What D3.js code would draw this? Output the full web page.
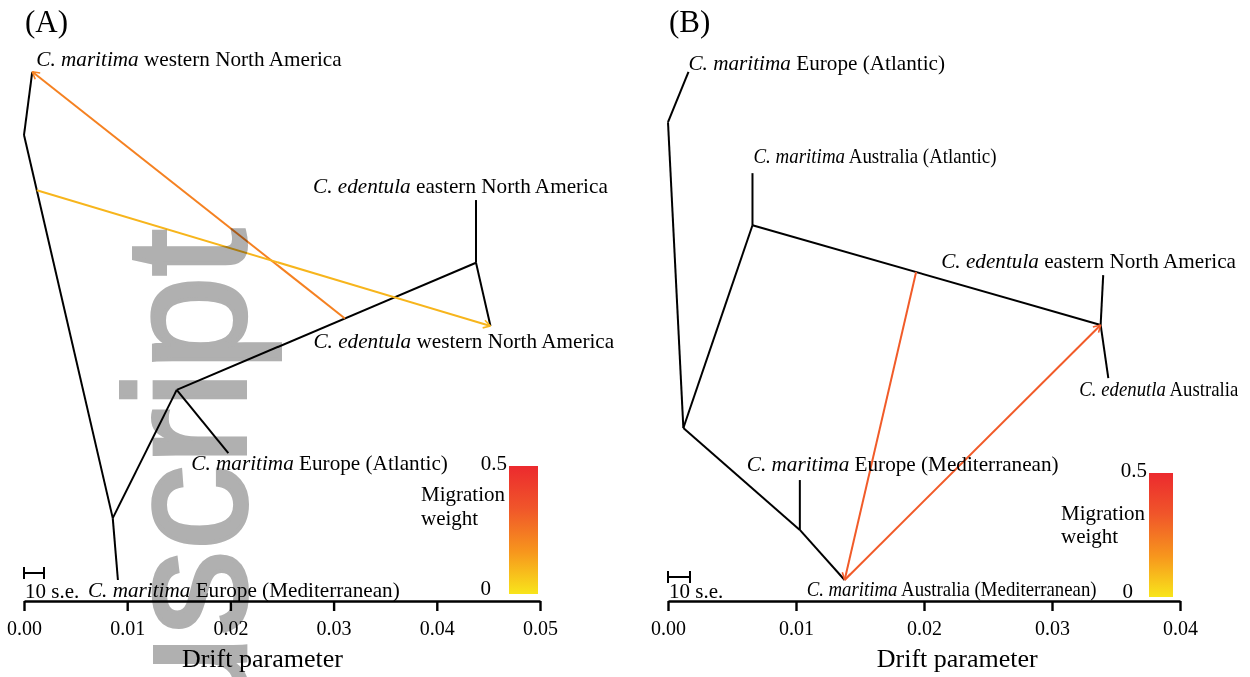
<!DOCTYPE html>
<html>
<head>
<meta charset="utf-8">
<script src="https://cdn.jsdelivr.net/npm/d3@7"></script>
<style>
  body { margin: 0; background: #fff; }
  svg { display: block; }
</style>
</head>
<body>
<svg id="chart" width="1250" height="677"></svg>
<script>
// ---- data: drift (x) and layout height (y, 0..1) of every node ----
const nodesA = [
  {id: 'root', drift: 0.0000, y: 0.832},
  {id: 'mWNA', drift: 0.0008, y: 0.945},
  {id: 'n1',   drift: 0.0086, y: 0.148},
  {id: 'mMED', drift: 0.0091, y: 0.0375},
  {id: 'n2',   drift: 0.0148, y: 0.377},
  {id: 'mATL', drift: 0.0198, y: 0.264},
  {id: 'n3',   drift: 0.0438, y: 0.604},
  {id: 'eENA', drift: 0.0438, y: 0.716},
  {id: 'eWNA', drift: 0.0452, y: 0.491}
];
const edgesA = [
  ['root', 'mWNA'], ['root', 'n1'], ['n1', 'mMED'], ['n1', 'n2'],
  ['n2', 'mATL'], ['n2', 'n3'], ['n3', 'eENA'], ['n3', 'eWNA']
];
// migration: source branch, position along it, target node, weight
const migA = [
  {from: ['n2', 'n3'], at: 0.562, to: 'mWNA', w: 0.22},
  {from: ['root', 'n1'], at: 0.144, to: 'eWNA', w: 0.10}
];
const labelsA = [
  {id: 'mWNA', it: 'C. maritima', rest: ' western North America', dx: 4, dy: -6},
  {id: 'eENA', it: 'C. edentula', rest: ' eastern North America', dx: -163, dy: -7},
  {id: 'eWNA', it: 'C. edentula', rest: ' western North America', dx: -177, dy: 22},
  {id: 'mATL', it: 'C. maritima', rest: ' Europe (Atlantic)', dx: -37, dy: 17},
  {id: 'mMED', it: 'C. maritima', rest: ' Europe (Mediterranean)', dx: -30, dy: 17}
];
const ticksA = [0, 0.01, 0.02, 0.03, 0.04, 0.05];

const nodesB = [
  {id: 'root', drift: 0.0000, y: 0.855},
  {id: 'mEA',  drift: 0.0016, y: 0.945},
  {id: 'n1',   drift: 0.0012, y: 0.309},
  {id: 'n2',   drift: 0.0066, y: 0.671},
  {id: 'mAA',  drift: 0.0066, y: 0.764},
  {id: 'n3',   drift: 0.0338, y: 0.493},
  {id: 'eENA', drift: 0.0340, y: 0.582},
  {id: 'eAUS', drift: 0.0344, y: 0.398},
  {id: 'n4',   drift: 0.0103, y: 0.127},
  {id: 'mEM',  drift: 0.0103, y: 0.216},
  {id: 'mAM',  drift: 0.0138, y: 0.0375}
];
const edgesB = [
  ['root', 'mEA'], ['root', 'n1'], ['n1', 'n2'], ['n2', 'mAA'], ['n2', 'n3'],
  ['n3', 'eENA'], ['n3', 'eAUS'], ['n1', 'n4'], ['n4', 'mEM'], ['n4', 'mAM']
];
const migB = [
  {from: ['n2', 'n3'], at: 0.47, to: 'mAM', w: 0.32},
  {from: ['n4', 'mAM'], at: 1.0, to: 'n3', w: 0.32}
];
const labelsB = [
  {id: 'mEA',  it: 'C. maritima', rest: ' Europe (Atlantic)', dx: 0, dy: -2},
  {id: 'mAA',  it: 'C. maritima', rest: ' Australia (Atlantic)', dx: 1, dy: -10, len: 243},
  {id: 'eENA', it: 'C. edentula', rest: ' eastern North America', dx: -162, dy: -7},
  {id: 'eAUS', it: 'C. edenutla', rest: ' Australia', dx: -29, dy: 18, len: 159},
  {id: 'mEM',  it: 'C. maritima', rest: ' Europe (Mediterranean)', dx: -53, dy: -9},
  {id: 'mAM',  it: 'C. maritima', rest: ' Australia (Mediterranean)', dx: -38, dy: 16, len: 290}
];
const ticksB = [0, 0.01, 0.02, 0.03, 0.04];

const weightStops = ['#f8e51b', '#f7951d', '#f0562a', '#ec2a2e'];

const serif = '"Liberation Serif","Times New Roman",Times,serif';
const svg = d3.select('#chart');

// watermark sits under the plot, lines multiply over it
svg.append('text')
  .attr('transform', 'translate(245,229) rotate(-90)')
  .attr('text-anchor', 'end')
  .attr('font-family', '"Liberation Sans",Arial,sans-serif')
  .attr('font-size', 170)
  .attr('fill', '#b0b0b0')
  .attr('stroke', '#b0b0b0').attr('stroke-width', 4)
  .text('Manuscript');

const defs = svg.append('defs');
const grad = defs.append('linearGradient').attr('id', 'wgrad')
  .attr('x1', 0).attr('y1', 1).attr('x2', 0).attr('y2', 0);
weightStops.forEach((c, i) => grad.append('stop')
  .attr('offset', i / (weightStops.length - 1)).attr('stop-color', c));

const weightColor = d3.scaleLinear()
  .domain(weightStops.map((c, i) => 0.5 * i / (weightStops.length - 1)))
  .range(weightStops);

function drawPanel(cfg) {
  const x = d3.scaleLinear().domain(cfg.domain).range(cfg.xRange);
  const y = d3.scaleLinear().domain([0, 1]).range([601, 41]);
  const g = svg.append('g').style('mix-blend-mode', 'multiply');
  const byId = new Map(cfg.nodes.map(d => [d.id, d]));
  const px = d => [x(d.drift), y(d.y)];

  g.selectAll('line.branch').data(cfg.edges).enter().append('line')
    .attr('class', 'branch')
    .attr('x1', d => px(byId.get(d[0]))[0]).attr('y1', d => px(byId.get(d[0]))[1])
    .attr('x2', d => px(byId.get(d[1]))[0]).attr('y2', d => px(byId.get(d[1]))[1])
    .attr('stroke', '#000').attr('stroke-width', 2);

  cfg.mig.forEach(m => {
    const a = px(byId.get(m.from[0])), b = px(byId.get(m.from[1]));
    const s = [a[0] + (b[0] - a[0]) * m.at, a[1] + (b[1] - a[1]) * m.at];
    const t = px(byId.get(m.to));
    const col = weightColor(m.w);
    g.append('line')
      .attr('x1', s[0]).attr('y1', s[1]).attr('x2', t[0]).attr('y2', t[1])
      .attr('stroke', col).attr('stroke-width', 2);
    const ang = Math.atan2(t[1] - s[1], t[0] - s[0]);
    const len = 8, spread = Math.PI / 6;
    [ang + Math.PI - spread, ang + Math.PI + spread].forEach(a2 => {
      g.append('line')
        .attr('x1', t[0]).attr('y1', t[1])
        .attr('x2', t[0] + len * Math.cos(a2)).attr('y2', t[1] + len * Math.sin(a2))
        .attr('stroke', col).attr('stroke-width', 1.6);
    });
  });

  // tip labels; a few are set narrower in the original, squeeze them horizontally
  const lab = g.selectAll('text.tip').data(cfg.labels).enter().append('text')
    .attr('class', 'tip')
    .attr('font-family', serif).attr('font-size', 21.2).attr('fill', '#000');
  lab.append('tspan').attr('font-style', 'italic').text(d => d.it);
  lab.append('tspan').text(d => d.rest);
  lab.each(function(d) {
    const p = px(byId.get(d.id));
    const k = d.len ? d.len / this.getComputedTextLength() : 1;
    d3.select(this).attr('transform',
      `translate(${p[0] + d.dx},${p[1] + d.dy}) scale(${k},1)`);
  });

  // axis
  const axis = d3.axisBottom(x).tickValues(cfg.ticks).tickFormat(d3.format('.2f'))
    .tickSize(10).tickSizeOuter(0).tickPadding(10);
  const ax = g.append('g').attr('transform', 'translate(0,601)').call(axis);
  ax.select('.domain').attr('stroke-width', 2.4);
  ax.selectAll('.tick line').attr('stroke-width', 2.4);
  ax.selectAll('.tick text').attr('font-family', serif).attr('font-size', 20).attr('fill', '#000');

  g.append('text').attr('x', x(cfg.titleAt)).attr('y', 667)
    .attr('text-anchor', 'middle').attr('font-family', serif).attr('font-size', 26)
    .text('Drift parameter');

  g.append('text').attr('x', cfg.xRange[0] + 1).attr('y', 32)
    .attr('font-family', serif).attr('font-size', 31).text(cfg.tag);

  // 10 s.e. scale bar
  const sb = g.append('g').attr('transform', `translate(${cfg.xRange[0]},${cfg.seY})`);
  sb.append('line').attr('x1', 0).attr('x2', cfg.seLen).attr('y1', 0).attr('y2', 0)
    .attr('stroke', '#000').attr('stroke-width', 2);
  [0, cfg.seLen].forEach(v => sb.append('line').attr('x1', v).attr('x2', v)
    .attr('y1', -6).attr('y2', 6).attr('stroke', '#000').attr('stroke-width', 2));
  sb.append('text').attr('x', 1).attr('y', cfg.seText).attr('font-family', serif)
    .attr('font-size', 21).text('10 s.e.');

  // migration weight legend
  const L = cfg.legend;
  const wy = d3.scaleLinear().domain([0, 0.5]).range([L.y1, L.y0]);
  g.append('rect').attr('x', L.x).attr('y', wy(0.5)).attr('width', L.w)
    .attr('height', wy(0) - wy(0.5)).attr('fill', 'url(#wgrad)');
  g.append('text').attr('x', L.x - 2).attr('y', wy(0.5) + 4)
    .attr('text-anchor', 'end').attr('font-family', serif).attr('font-size', 21).text('0.5');
  g.append('text').attr('x', L.x - L.zgap).attr('y', wy(0) + 1)
    .attr('text-anchor', 'end').attr('font-family', serif).attr('font-size', 21).text('0');
  const lt = g.append('text').attr('font-family', serif).attr('font-size', 21);
  lt.append('tspan').attr('x', L.tx).attr('y', L.ty).text('Migration');
  lt.append('tspan').attr('x', L.tx).attr('dy', L.lh).text('weight');
}

drawPanel({
  nodes: nodesA, edges: edgesA, mig: migA, labels: labelsA, ticks: ticksA,
  domain: [0, 0.05], xRange: [24, 540], titleAt: 0.0231, tag: '(A)',
  seY: 573, seLen: 20, seText: 25,
  legend: {x: 509, w: 29, y0: 466, y1: 594, tx: 421, ty: 501, lh: 24, zgap: 18}
});
drawPanel({
  nodes: nodesB, edges: edgesB, mig: migB, labels: labelsB, ticks: ticksB,
  domain: [0, 0.04], xRange: [668, 1180], titleAt: 0.0226, tag: '(B)',
  seY: 577, seLen: 22, seText: 21,
  legend: {x: 1149, w: 24, y0: 473, y1: 597, tx: 1061, ty: 520, lh: 23, zgap: 16}
});
</script>
</body>
</html>
